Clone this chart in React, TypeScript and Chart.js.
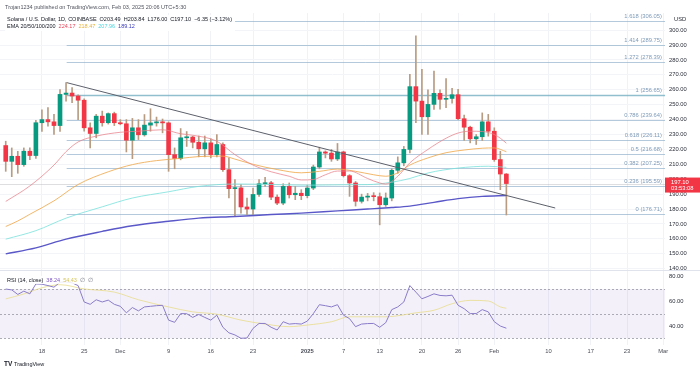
import React, { useEffect, useRef } from "react";
import { Chart, registerables } from "chart.js";

Chart.register(...registerables);

const FONT = "'Liberation Sans', Arial, sans-serif";
const FS = 5.8;
const HFS = 5.5;

// Daily candles SOL/USD, index 0 = Nov 12 2024 ... index 83 = Feb 3 2025
const opens = [
  222.6, 212.0, 215.4, 209.8, 218.8, 215.9, 237.9, 240.0, 238.5, 236.0,
  256.9, 257.8, 255.8, 253.0, 234.5, 230.7, 242.3, 237.9, 244.0, 237.9,
  237.2, 226.2, 234.5, 229.8, 236.3, 237.8, 238.5, 237.8, 216.5, 213.9,
  227.8, 228.3, 224.8, 220.4, 224.4, 216.5, 223.3, 206.4, 193.7, 194.2,
  181.4, 180.0, 189.8, 197.0, 197.6, 188.0, 184.0, 195.2, 189.6, 190.6,
  189.0, 194.1, 208.2, 218.3, 217.5, 213.6, 218.3, 202.4, 197.5, 185.2,
  188.0, 188.6, 188.3, 182.9, 187.4, 206.0, 211.0, 220.0, 262.1, 252.4,
  241.9, 250.2, 257.6, 253.6, 254.2, 256.7, 240.6, 234.9, 227.1, 228.5,
  238.5, 232.2, 213.2, 203.49,
];
const highs = [
  225.5, 221.0, 218.7, 221.0, 221.0, 239.5, 246.6, 248.0, 243.5, 260.2,
  264.8, 261.4, 256.6, 254.0, 237.8, 243.5, 245.7, 244.5, 245.0, 240.0,
  240.0, 240.8, 240.0, 243.4, 247.3, 241.7, 240.4, 238.5, 221.0, 234.0,
  232.0, 228.9, 229.0, 229.0, 227.1, 230.0, 224.4, 214.3, 199.7, 196.4,
  187.4, 194.1, 199.7, 201.3, 198.6, 189.6, 197.0, 197.5, 195.2, 193.0,
  196.0, 209.5, 221.5, 219.0, 220.0, 224.0, 218.8, 203.1, 198.5, 190.0,
  190.5, 191.0, 190.8, 190.8, 207.0, 215.0, 222.0, 270.4, 296.2, 273.7,
  260.0, 272.6, 260.0, 267.5, 261.0, 260.3, 243.0, 235.6, 230.0, 244.5,
  243.5, 234.5, 218.8, 203.84,
];
const lows = [
  205.3, 201.7, 204.0, 208.7, 213.2, 214.0, 232.0, 235.6, 230.0, 232.0,
  252.4, 251.3, 240.0, 232.2, 221.0, 227.8, 235.6, 237.0, 236.0, 236.5,
  218.3, 213.8, 226.6, 228.9, 232.2, 235.6, 231.1, 205.3, 207.0, 213.0,
  222.0, 221.0, 215.0, 215.0, 214.3, 215.0, 205.3, 187.4, 175.0, 177.3,
  176.2, 176.2, 188.5, 195.2, 186.3, 182.9, 182.9, 187.4, 186.3, 186.3,
  187.5, 193.0, 207.0, 214.3, 212.0, 212.5, 201.5, 188.5, 182.0, 184.0,
  185.5, 185.5, 169.4, 181.8, 185.5, 204.0, 209.0, 217.7, 237.9, 230.0,
  230.0, 246.8, 247.0, 248.0, 251.0, 240.0, 226.0, 224.4, 223.3, 226.0,
  228.9, 212.0, 193.0, 176.0,
];
const closes = [
  212.0, 215.4, 209.8, 218.8, 215.9, 237.9, 240.0, 238.5, 236.0, 256.9,
  257.8, 255.8, 253.0, 234.5, 230.7, 242.3, 237.9, 244.0, 237.9, 237.2,
  226.2, 234.5, 229.8, 236.3, 237.8, 238.5, 237.8, 216.5, 213.9, 227.8,
  228.3, 224.8, 220.4, 224.4, 216.5, 223.3, 206.4, 193.7, 194.2, 181.4,
  180.0, 189.8, 197.0, 197.6, 188.0, 184.0, 195.2, 189.6, 190.6, 189.0,
  194.1, 208.2, 218.3, 217.5, 213.6, 218.3, 202.4, 197.5, 185.2, 188.0,
  188.6, 188.3, 182.9, 187.4, 206.0, 211.0, 220.0, 262.1, 252.4, 241.9,
  250.2, 257.6, 253.6, 254.2, 256.7, 240.6, 234.9, 227.1, 228.5, 238.5,
  232.2, 213.2, 203.5, 197.1,
];

// EMA readings [day index, value]
const ema20 = [
  [0, 185.1], [4, 195.5], [8, 209.5], [10, 218.5], [12, 225], [15, 228.9], [19, 231.5],
  [22, 232.2], [26, 233.2], [29, 230.5], [31, 229.5], [35, 225.5], [38, 216.5], [41, 209.5],
  [44, 205], [47, 202], [49, 199.5], [51, 199.8], [53, 203], [55, 205.5], [57, 205.5],
  [60, 200.5], [62, 197.5], [63, 196.8], [65, 202], [67, 211], [70, 220], [73, 227.5],
  [75, 231], [77, 232.2], [79, 232], [81, 230], [82, 227.5], [83, 224.17],
];
const ema50 = [
  [0, 168.3], [2, 172], [4, 176.5], [8, 185.5], [12, 196.5], [17, 205], [21, 209.8],
  [25, 212.5], [29, 214], [32, 215.2], [36, 215.5], [38, 213.5], [41, 210], [45, 206.5],
  [49, 204.3], [52, 205.3], [55, 206.8], [58, 205.3], [61, 203], [63, 202], [65, 204.3],
  [67, 209.5], [70, 214.3], [73, 217.8], [76, 219.6], [79, 220.8], [81, 221], [83, 218.47],
];
const ema100 = [
  [0, 159.8], [5, 165.5], [10, 173.9], [16, 181.5], [21, 187.4], [27, 191.6], [32, 195.2],
  [38, 196.8], [44, 196.5], [50, 196], [56, 196.3], [60, 196.4], [64, 198], [67, 200.5],
  [70, 204.2], [75, 207.5], [80, 208.7], [83, 207.96],
];
const ema200 = [
  [0, 149.9], [5, 154], [10, 159.8], [16, 165], [21, 168.8], [27, 171.8], [32, 173.9],
  [38, 175], [44, 176.3], [49, 177.3], [55, 178.8], [60, 180], [64, 181], [67, 182],
  [71, 184.5], [75, 187], [79, 188.5], [83, 189.12],
];

// RSI (14) per day and its moving average readings
const rsi = [
  70.0, 69.3, 65.6, 68.3, 66.1, 74.1, 73.9, 72.8, 71.5, 75.5,
  75.8, 75.0, 72.8, 59.5, 57.6, 61.3, 59.5, 61.0, 57.6, 56.0,
  50.7, 55.0, 52.3, 55.5, 56.0, 56.5, 56.8, 44.8, 43.0, 50.1,
  50.0, 47.0, 49.4, 47.0, 44.8, 48.8, 39.0, 34.5, 32.8, 30.1,
  30.3, 38.1, 42.1, 42.1, 39.0, 36.8, 43.5, 41.6, 42.0, 41.6,
  44.0, 50.1, 57.3, 56.5, 55.5, 57.3, 48.8, 46.0, 39.5, 41.6,
  42.0, 42.1, 39.0, 42.7, 53.3, 55.5, 59.5, 72.8, 67.5, 62.1,
  64.0, 66.1, 64.8, 64.5, 65.0, 56.8, 54.1, 50.1, 50.1, 53.3,
  51.5, 43.5, 40.0, 38.24,
];
const rsiMa = [
  [0, 62], [3, 66], [6, 71], [9, 73.5], [13, 70.1], [18, 67.5], [22, 61.3], [27, 55.5],
  [31, 51.5], [35, 49.6], [39, 44.8], [43, 41.6], [47, 39.5], [50, 40.8], [54, 43.5],
  [57, 47.5], [63, 47.5], [68, 50.7], [71, 52.8], [74, 58.1], [77, 60.8], [80, 60.3],
  [82, 55.5], [83, 54.4],
];

// Fibonacci retracement
const fibRatios = ["1.618", "1.414", "1.272", "1", "0.786", "0.618", "0.5", "0.382", "0.236", "0"];
const fibPrices = [306.05, 289.75, 278.39, 256.65, 239.64, 226.11, 216.68, 207.25, 195.59, 176.71];
const fibStartIdx = 10.1;

// Trend line
const trendX = [10.1, 91.1];
const trendY = [264.8, 180.7];

// Axes
const xTickIdx = [6, 13, 19, 27, 34, 41, 50, 56, 62, 69, 75, 81, 90, 97, 103, 109];
const xTickLabels = ["18", "25", "Dec", "9", "16", "23", "2025", "7", "13", "20", "26", "Feb", "10", "17", "23", "Mar"];
const priceTicks = [140, 150, 160, 170, 180, 190, 200, 210, 220, 230, 240, 250, 260, 270, 280, 290, 300];
const rsiTicks = [40, 60, 80];
const rsiLevels = [70, 50, 30];

const UP = "#089981";
const DOWN = "#f23645";
const WICK = "#b89c82";

const pts = (arr: number[][]) => arr.map(([x, y]) => ({ x, y }));

function font(size: number, weight = "normal") {
  return `${weight} ${size}px ${FONT}`;
}

const overlay = {
  id: "overlay",
  beforeDatasetsDraw(chart: any) {
    const { ctx, chartArea: ca } = chart;
    const x = chart.scales.x;
    const y = chart.scales.y;
    const y2 = chart.scales.y2;
    ctx.save();
    const t70 = y2.getPixelForValue(70);
    const b30 = y2.getPixelForValue(30);
    ctx.fillStyle = "rgba(126,87,194,0.09)";
    ctx.fillRect(ca.left, t70, ca.right - ca.left, b30 - t70);
    ctx.setLineDash([2, 2]);
    ctx.strokeStyle = "rgba(120,123,134,0.6)";
    ctx.lineWidth = 1;
    rsiLevels.forEach((lv) => {
      const py = Math.round(y2.getPixelForValue(lv)) + 0.5;
      ctx.beginPath();
      ctx.moveTo(ca.left, py);
      ctx.lineTo(ca.right, py);
      ctx.stroke();
    });
    ctx.setLineDash([]);
    ctx.strokeStyle = "#e0e3eb";
    const sy = Math.round(y.bottom) + 0.5;
    ctx.beginPath();
    ctx.moveTo(0, sy);
    ctx.lineTo(chart.width, sy);
    ctx.stroke();
    const last = closes[closes.length - 1];
    const pl = Math.round(y.getPixelForValue(last)) + 0.5;
    ctx.strokeStyle = "rgba(160,160,170,0.35)";
    ctx.beginPath();
    ctx.moveTo(ca.left, pl);
    ctx.lineTo(ca.right, pl);
    ctx.stroke();
    const xs = x.getPixelForValue(fibStartIdx);
    fibPrices.forEach((p, i) => {
      const py = Math.round(y.getPixelForValue(p)) + 0.5;
      ctx.strokeStyle = fibRatios[i] === "1" ? "rgba(110,170,190,0.75)" : "rgba(130,165,195,0.6)";
      ctx.lineWidth = fibRatios[i] === "1" ? 1.3 : 1;
      ctx.beginPath();
      ctx.moveTo(xs, py);
      ctx.lineTo(ca.right, py);
      ctx.stroke();
    });
    ctx.restore();
  },
  afterDraw(chart: any) {
    const { ctx, chartArea: ca } = chart;
    const y = chart.scales.y;
    const y2 = chart.scales.y2;
    ctx.save();
    ctx.font = font(FS);
    ctx.textAlign = "right";
    ctx.textBaseline = "alphabetic";
    ctx.fillStyle = "#7f9bb8";
    fibPrices.forEach((p, i) => {
      const py = y.getPixelForValue(p);
      ctx.fillText(`${fibRatios[i]} (${p.toFixed(2)})`, ca.right - 3, py - 3);
    });
    ctx.textAlign = "left";
    ctx.textBaseline = "middle";
    ctx.fillStyle = "#2a2e39";
    ctx.fillText("USD", ca.right + 9, 19);
    const last = closes[closes.length - 1];
    const py = y.getPixelForValue(last);
    ctx.fillStyle = DOWN;
    ctx.fillRect(ca.right, py - 6, chart.width - ca.right, 15);
    ctx.fillStyle = "#ffffff";
    ctx.fillText(last.toFixed(2), ca.right + 6, py - 1.5);
    ctx.fillText("03:53:08", ca.right + 6, py + 5);

    ctx.font = font(HFS);
    ctx.fillStyle = "#50535e";
    ctx.fillText("Trojan1234 published on TradingView.com, Feb 03, 2025 20:06 UTC+5:30", 5, 7);

    const drawSegs = (segs: [string, string][], x0: number, yy: number, gap: number) => {
      let xx = x0;
      ctx.font = font(HFS);
      segs.forEach(([t, c]) => {
        ctx.fillStyle = c;
        ctx.fillText(t, xx, yy);
        xx += ctx.measureText(t).width + gap;
      });
      return xx;
    };
    const dark = "#131722";
    const seg2: [string, string][] = [
      ["Solana / U.S. Dollar, 1D, COINBASE", dark],
      ["O203.49", dark],
      ["H203.84", dark],
      ["L176.00", dark],
      ["C197.10", dark],
      ["\u22126.35 (\u22123.12%)", dark],
    ];
    ctx.font = font(HFS);
    let w2 = 0;
    seg2.forEach(([t]) => (w2 += ctx.measureText(t).width + 3));
    ctx.fillStyle = "rgba(255,255,255,0.92)";
    ctx.fillRect(5, 15, w2 + 2, 16);
    drawSegs(seg2, 7, 19.5, 3);
    drawSegs(
      [
        ["EMA 20/50/100/200", dark],
        ["224.17", "#e5455a"],
        ["218.47", "#e8b23a"],
        ["207.96", "#4fd3dc"],
        ["189.12", "#3b3bb8"],
      ],
      7,
      26.5,
      3
    );
    const ry = y2.top + 10;
    ctx.font = font(HFS);
    ctx.fillStyle = "rgba(255,255,255,0.85)";
    ctx.fillRect(5, ry - 4, 90, 8);
    drawSegs(
      [
        ["RSI (14, close)", dark],
        ["38.24", "#7e57c2"],
        ["54.43", "#d6c45a"],
        ["\u2205", "#787b86"],
        ["\u2205", "#787b86"],
      ],
      7,
      ry,
      3
    );
    ctx.font = font(6.5, "bold");
    ctx.fillStyle = "#131722";
    ctx.fillText("TV", 4, 364);
    ctx.font = font(HFS);
    ctx.fillText("TradingView", 14, 364);
    ctx.restore();
  },
};

export default function App() {
  const ref = useRef<HTMLCanvasElement>(null);
  useEffect(() => {
    const canvas = ref.current;
    if (!canvas) return;
    const tickFont = { family: FONT, size: FS };
    const chart = new Chart(canvas, {
      type: "bar",
      data: {
        datasets: [
          {
            type: "bar",
            data: highs.map((h, i) => ({ x: i, y: [lows[i], h] })),
            backgroundColor: WICK,
            barThickness: 1,
            grouped: false,
            yAxisID: "y",
            order: 4,
          } as any,
          {
            type: "bar",
            data: opens.map((o, i) => ({ x: i, y: [o, closes[i]] })),
            backgroundColor: opens.map((o, i) => (closes[i] >= o ? UP : DOWN)),
            barThickness: 4,
            minBarLength: 1,
            grouped: false,
            yAxisID: "y",
            order: 3,
          } as any,
          {
            type: "line",
            data: pts(ema20),
            borderColor: "rgba(232,128,138,0.75)",
            borderWidth: 1,
            pointRadius: 0,
            cubicInterpolationMode: "monotone",
            yAxisID: "y",
            order: 2,
          } as any,
          {
            type: "line",
            data: pts(ema50),
            borderColor: "rgba(240,170,80,0.85)",
            borderWidth: 1,
            pointRadius: 0,
            cubicInterpolationMode: "monotone",
            yAxisID: "y",
            order: 2,
          } as any,
          {
            type: "line",
            data: pts(ema100),
            borderColor: "rgba(120,225,220,0.8)",
            borderWidth: 1,
            pointRadius: 0,
            cubicInterpolationMode: "monotone",
            yAxisID: "y",
            order: 2,
          } as any,
          {
            type: "line",
            data: pts(ema200),
            borderColor: "#5a58c8",
            borderWidth: 1.4,
            pointRadius: 0,
            cubicInterpolationMode: "monotone",
            yAxisID: "y",
            order: 2,
          } as any,
          {
            type: "line",
            data: trendX.map((v, i) => ({ x: v, y: trendY[i] })),
            borderColor: "#5d606b",
            borderWidth: 1,
            pointRadius: 0,
            yAxisID: "y",
            order: 1,
          } as any,
          {
            type: "line",
            data: pts(rsiMa),
            borderColor: "rgba(232,220,140,0.8)",
            borderWidth: 1,
            pointRadius: 0,
            cubicInterpolationMode: "monotone",
            yAxisID: "y2",
            order: 1,
          } as any,
          {
            type: "line",
            data: rsi.map((v, i) => ({ x: i, y: v })),
            borderColor: "#8a7cc8",
            borderWidth: 1,
            pointRadius: 0,
            tension: 0,
            yAxisID: "y2",
            order: 0,
          } as any,
        ],
      },
      options: {
        animation: false,
        responsive: false,
        maintainAspectRatio: false,
        events: [],
        layout: { padding: { top: 13, bottom: 14, left: 0, right: 0 } },
        plugins: { legend: { display: false }, tooltip: { enabled: false } },
        scales: {
          x: {
            type: "linear",
            min: -0.95,
            max: 109.3,
            offset: false,
            grid: { color: "#f1f2f6", drawTicks: false, offset: false },
            border: { display: false },
            afterBuildTicks: (s: any) => {
              s.ticks = xTickIdx.map((v) => ({ value: v }));
            },
            ticks: {
              autoSkip: false,
              maxRotation: 0,
              padding: 3,
              color: "#4a4d57",
              font: (c: any) => ({
                family: FONT,
                size: FS,
                weight: c.tick && c.tick.value === 50 ? "bold" : "normal",
              }),
              callback: (v: any) => {
                const k = xTickIdx.indexOf(Number(v));
                return k >= 0 ? xTickLabels[k] : "";
              },
            },
          },
          y: {
            type: "linear",
            position: "right",
            stack: "panes",
            stackWeight: 257,
            min: 139.1,
            max: 311.5,
            grid: { color: "#f3f4f7", drawTicks: false },
            border: { display: false },
            afterBuildTicks: (s: any) => {
              s.ticks = priceTicks.map((v) => ({ value: v }));
            },
            afterFit: (s: any) => {
              s.width = 35;
            },
            ticks: {
              autoSkip: false,
              padding: 4,
              color: "#2a2e39",
              font: tickFont,
              callback: (v: any) => Number(v).toFixed(2),
            },
          },
          y2: {
            type: "linear",
            position: "right",
            stack: "panes",
            stackWeight: 75,
            min: 24.6,
            max: 85.4,
            grid: { display: false, drawTicks: false },
            border: { display: false },
            afterBuildTicks: (s: any) => {
              s.ticks = rsiTicks.map((v) => ({ value: v }));
            },
            afterFit: (s: any) => {
              s.width = 35;
            },
            ticks: {
              autoSkip: false,
              padding: 4,
              color: "#2a2e39",
              font: tickFont,
              callback: (v: any) => Number(v).toFixed(2),
            },
          },
        } as any,
      },
      plugins: [overlay],
    } as any);
    return () => chart.destroy();
  }, []);
  return (
    <div style={{ position: "fixed", left: 0, top: 0, width: 700, height: 372, background: "#ffffff" }}>
      <canvas ref={ref} width={700} height={372} style={{ display: "block", width: 700, height: 372 }} />
    </div>
  );
}
